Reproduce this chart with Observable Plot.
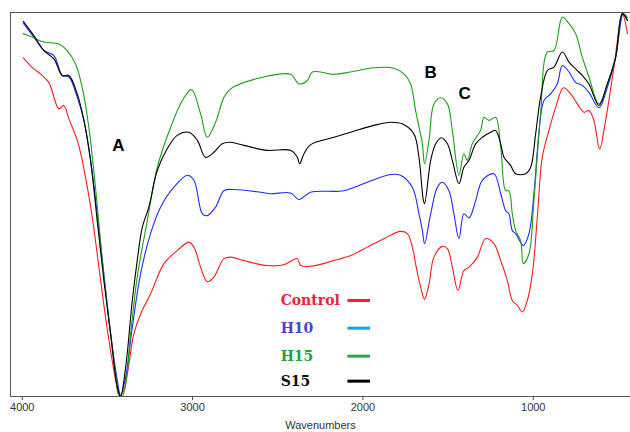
<!DOCTYPE html>
<html>
<head>
<meta charset="utf-8">
<script src="https://cdn.jsdelivr.net/npm/d3@7"></script>
<script src="https://cdn.jsdelivr.net/npm/@observablehq/plot@0.6"></script>
<style>
  html, body { margin: 0; padding: 0; background: #fff; }
  #chart svg { display: block; }
</style>
</head>
<body>
<div id="chart"></div>
<script>
// ---- Data (wavenumber cm-1, transmittance in arbitrary %) ----
const control = [[3994,88.2],[3932,85.3],[3893,84.0],[3844,81.8],[3785,74.9],[3756,75.8],[3726,72.3],[3677,66.7],[3648,61.5],[3618,54.5],[3589,46.7],[3550,33.7],[3511,20.7],[3472,9.4],[3433,1.1],[3413,0],[3383,5.9],[3345,16.3],[3305,21.5],[3247,26.7],[3168,34.6],[3090,38.0],[3022,40.2],[2992,38.9],[2953,33.7],[2914,29.9],[2875,31.1],[2816,35.9],[2777,36.3],[2699,35.4],[2561,34.1],[2464,34.3],[2385,35.9],[2366,34.1],[2307,33.9],[2170,35.4],[2072,36.7],[1974,38.9],[1877,41.1],[1779,43.0],[1739,42.4],[1720,40.6],[1701,37.2],[1691,34.6],[1661,28.5],[1638,25.3],[1612,29.3],[1583,36.3],[1534,39.1],[1504,38.5],[1475,33.7],[1442,27.6],[1407,32.8],[1377,33.7],[1328,36.3],[1280,41.1],[1231,39.8],[1191,35.4],[1152,30.2],[1123,25.0],[1093,23.7],[1064,22.0],[1035,25.0],[1005,32.0],[976,46.7],[947,62.3],[908,69.3],[868,75.3],[823,80.4],[780,78.8],[741,76.2],[702,74.0],[673,74.5],[644,71.9],[610,64.5],[575,71.9],[526,85.8],[477,99.7],[447,94.5]];

const h10 = [[3994,97.2],[3932,93.6],[3873,90.1],[3814,88.8],[3765,83.6],[3726,83.2],[3677,77.9],[3638,71.9],[3599,61.5],[3560,47.6],[3521,32.0],[3481,16.3],[3442,4.2],[3423,0.3],[3393,5.0],[3354,18.0],[3305,32.0],[3247,42.4],[3188,49.3],[3110,54.5],[3031,57.6],[2992,56.3],[2943,47.6],[2914,47.1],[2865,49.3],[2816,53.6],[2757,53.9],[2601,53.2],[2542,52.8],[2425,53.0],[2376,51.3],[2307,53.2],[2112,53.6],[1974,55.8],[1837,57.8],[1779,57.6],[1710,54.5],[1671,47.6],[1651,43.2],[1638,39.8],[1602,47.6],[1563,54.5],[1534,55.8],[1495,53.6],[1466,47.6],[1436,41.1],[1407,47.6],[1377,46.5],[1338,51.0],[1299,56.3],[1231,58.0],[1191,52.8],[1162,48.4],[1143,47.6],[1123,43.2],[1103,42.4],[1058,39.3],[1025,42.4],[996,52.8],[967,68.4],[937,77.1],[898,78.8],[859,81.4],[829,86.2],[790,84.5],[751,81.8],[712,81.0],[673,79.2],[614,75.2],[565,80.5],[516,88.4],[471,99.7],[447,97.9]];

const h15 = [[3994,94.5],[3932,93.4],[3873,92.3],[3785,91.8],[3736,90.1],[3687,86.6],[3648,80.5],[3609,70.1],[3570,54.5],[3530,35.4],[3491,19.8],[3452,5.9],[3433,0.3],[3403,1.6],[3364,16.3],[3325,31.1],[3266,45.8],[3207,59.7],[3129,70.1],[3060,77.1],[3006,79.9],[2953,73.6],[2914,67.5],[2865,71.4],[2816,77.9],[2777,80.1],[2601,83.0],[2425,83.9],[2376,81.4],[2326,82.3],[2297,84.5],[2170,83.9],[2072,84.5],[1935,85.6],[1818,85.5],[1759,84.0],[1720,81.4],[1691,74.5],[1651,65.8],[1638,60.6],[1612,66.7],[1583,76.2],[1544,77.8],[1504,76.2],[1475,69.3],[1436,57.6],[1407,63.2],[1387,61.5],[1358,65.8],[1309,69.3],[1289,72.7],[1260,71.9],[1221,72.7],[1191,64.9],[1162,53.6],[1143,53.6],[1123,47.6],[1103,43.2],[1074,40.6],[1058,34.6],[1025,37.2],[996,51.0],[957,73.6],[917,89.7],[878,90.1],[829,98.8],[790,97.1],[751,94.5],[712,88.4],[673,83.2],[614,76.2],[565,81.4],[516,88.4],[477,99.7],[447,98.8]];

const s15 = [[3994,97.7],[3932,94.0],[3873,90.1],[3814,87.9],[3765,83.6],[3726,83.6],[3677,78.8],[3638,71.9],[3599,61.5],[3560,45.8],[3521,30.2],[3481,16.3],[3442,2.4],[3423,0],[3393,7.6],[3354,25.0],[3325,35.4],[3295,44.1],[3257,49.3],[3207,58.9],[3149,64.5],[3090,68.0],[3022,68.8],[2972,66.7],[2924,62.3],[2875,63.6],[2826,65.8],[2777,66.2],[2699,65.4],[2561,64.1],[2425,64.1],[2385,62.3],[2372,60.6],[2346,63.2],[2307,65.6],[2170,67.5],[2072,68.8],[1935,70.6],[1837,71.4],[1769,71.0],[1701,68.4],[1671,62.3],[1645,51.0],[1638,50.2],[1602,61.5],[1573,65.8],[1540,67.4],[1504,65.8],[1475,61.5],[1436,55.4],[1407,59.7],[1377,61.5],[1338,65.8],[1299,67.5],[1250,68.8],[1221,69.3],[1191,65.8],[1172,62.3],[1133,60.2],[1103,58.0],[1045,58.0],[1015,59.7],[986,68.4],[957,77.9],[917,84.9],[878,85.8],[829,89.7],[790,87.1],[751,85.3],[712,83.6],[673,81.4],[614,75.8],[565,81.4],[516,88.4],[477,99.7],[447,97.9]];

const seriesNames = ["Control", "H10", "H15", "S15"];
const xTicks = [4000, 3000, 2000, 1000];
const bandLabels = ["A", "B", "C"];
const bandWn = [3435, 1602, 1403];
const bandT = [65.4, 84.4, 78.9];

// ---- Styles / layout ----
const lineColors = { Control: "#ff1a1a", H10: "#1f2bff", H15: "#1aa01a", S15: "#000000" };
const legendText = { Control: "#ee2233", H10: "#4444cc", H15: "#22a040", S15: "#111111" };
const legendSwatch = { Control: "#ee2233", H10: "#11a6ea", H15: "#2aa845", S15: "#000000" };
const legendX = 2483, legendX1 = 2088, legendX2 = 1955;
const legendY = [25.0, 17.8, 10.5, 4.0];

const rows = [];
[control, h10, h15, s15].forEach((arr, i) => {
  arr.forEach(([wn, t]) => rows.push({ series: seriesNames[i], wn, t }));
});
const legendRows = seriesNames.map((s, i) => ({ s, y: legendY[i] }));
const bands = bandLabels.map((l, i) => ({ l, x: bandWn[i], y: bandT[i] }));

const plot = Plot.plot({
  width: 630,
  height: 432,
  marginLeft: 10,
  marginRight: 0,
  marginTop: 12,
  marginBottom: 36,
  style: { fontFamily: "Liberation Sans, Arial, sans-serif", background: "#fff" },
  x: { domain: [4069, 429], label: null },
  y: { domain: [0, 100], axis: null },
  marks: [
    Plot.axisX({ ticks: xTicks, tickSize: 4, tickFormat: d => String(d), fontSize: 11, color: "#333", tickPadding: 3, label: null, stroke: "#444" }),
    ...seriesNames.map(s => Plot.line(rows.filter(r => r.series === s), {
      x: "wn", y: "t", stroke: lineColors[s], strokeWidth: 1.1, curve: "catmull-rom"
    })),
    Plot.text(bands, { x: "x", y: "y", text: "l", fontSize: 17, fontWeight: "bold", fill: "#000" }),
    Plot.text(legendRows, { x: () => legendX, y: "y", text: "s", textAnchor: "start",
      fill: d => legendText[d.s], fontSize: 14, fontWeight: "bold",
      fontFamily: "DejaVu Serif, Liberation Serif, serif" }),
    Plot.ruleY(legendRows, { y: "y", x1: () => legendX1, x2: () => legendX2,
      stroke: d => legendSwatch[d.s], strokeWidth: 3 }),
    Plot.frame({ stroke: "#555" }),
    Plot.text(["Wavenumbers"], { frameAnchor: "bottom", dy: 32, fontSize: 11, fill: "#333" })
  ]
});
document.getElementById("chart").appendChild(plot);
</script>
</body>
</html>
